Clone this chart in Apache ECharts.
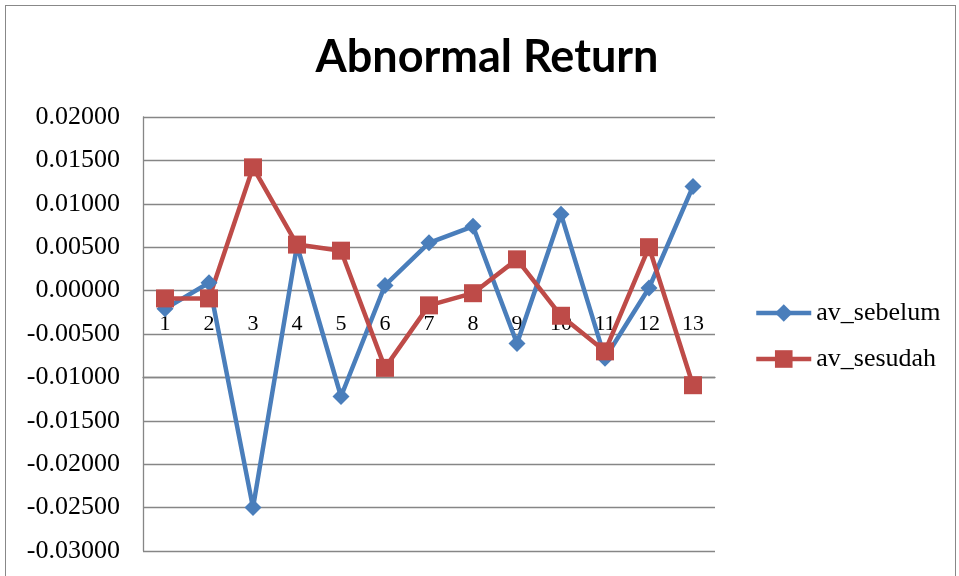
<!DOCTYPE html>
<html><head><meta charset="utf-8">
<script src="https://cdn.jsdelivr.net/npm/echarts@6/dist/echarts.min.js"></script>
<style>html,body{margin:0;padding:0;background:#fff}#c{width:959px;height:576px}
#frame{position:absolute;left:5px;top:5px;width:951px;height:600px;border:1.5px solid #888;box-sizing:border-box;pointer-events:none}</style>
</head><body><div id="c"></div><div id="frame"></div>
<script>
const categories = ['1','2','3','4','5','6','7','8','9','10','11','12','13'];
const avSebelum = [-0.0021, 0.0009, -0.0250, 0.0052, -0.0122, 0.0006, 0.0055, 0.0074, -0.0061, 0.0088, -0.0078, 0.0003, 0.0120];
const avSesudah = [-0.0009, -0.0009, 0.0142, 0.0053, 0.0046, -0.0089, -0.0017, -0.0003, 0.0036, -0.0029, -0.0070, 0.0050, -0.0109];
const yMin = -0.03, yMax = 0.02, yStep = 0.005;
const chart = echarts.init(document.getElementById('c'));
const serif = '"Liberation Serif", "Times New Roman", serif';
const option = {
  animation: false,
  title: { text: 'Abnormal Return', left: 482, textAlign: 'center', top: 30,
    textStyle: { fontFamily: 'Lato', fontWeight: 'bold', fontSize: 45, color: '#000' } },
  grid: { left: 143, right: 244, top: 117, bottom: 25, containLabel: false, outerBoundsMode: 'none' },
  legend: { orient: 'vertical', left: 749, top: 295, itemGap: 20, itemWidth: 55, itemHeight: 22,
    lineStyle: { width: 4.5 },
    textStyle: { fontFamily: serif, fontSize: 26, color: '#000' },
    data: ['av_sebelum', 'av_sesudah'] },
  xAxis: { type: 'category', data: categories, boundaryGap: true, position: 'bottom',
    axisLine: { onZero: true, lineStyle: { color: '#868686', width: 1.3 } },
    axisTick: { show: false },
    axisLabel: { fontFamily: serif, fontSize: 22, color: '#000', margin: 23 } },
  yAxis: { type: 'value', min: yMin, max: yMax, interval: yStep,
    axisLine: { show: true, lineStyle: { color: '#868686', width: 1.3 } },
    axisTick: { show: false },
    splitLine: { lineStyle: { color: '#868686', width: 1.3 } },
    axisLabel: { fontFamily: serif, fontSize: 26, color: '#000', margin: 23,
      formatter: v => v.toFixed(5) } },
  series: [
    { name: 'av_sebelum', type: 'line', data: avSebelum, symbol: 'diamond', symbolSize: 17,
      lineStyle: { color: '#4A7EBB', width: 4.5 }, itemStyle: { color: '#4A7EBB' } },
    { name: 'av_sesudah', type: 'line', data: avSesudah, symbol: 'rect', symbolSize: 18,
      lineStyle: { color: '#BE4B48', width: 4.5 }, itemStyle: { color: '#BE4B48' } }
  ]
};
chart.setOption(option);
// Move the category axis onto the zero line of the value axis.
const zeroY = chart.convertToPixel({ yAxisIndex: 0 }, 0);
const bottomY = chart.convertToPixel({ yAxisIndex: 0 }, yMin);
chart.setOption({ xAxis: { offset: zeroY - bottomY } });
</script></body></html>
